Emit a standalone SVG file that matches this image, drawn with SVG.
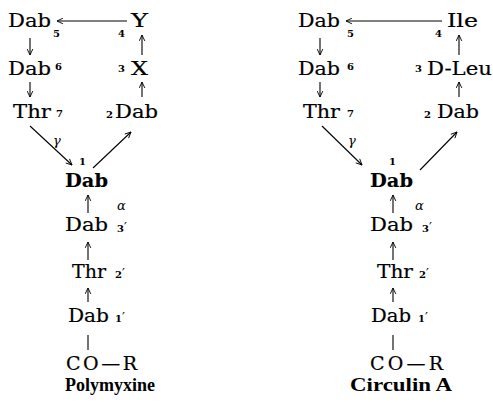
<svg xmlns="http://www.w3.org/2000/svg" width="493" height="403" viewBox="0 0 493 403">
<style>
.t{font-family:"DejaVu Serif","Liberation Serif",serif;font-size:19px;fill:#000;stroke:#000;stroke-width:0.2}
.b{font-weight:bold;stroke-width:0.1}
.n{font-family:"DejaVu Serif","Liberation Serif",serif;font-size:10px;font-weight:bold;fill:#000}
.p{font-size:13px;font-weight:normal}
.g{font-family:"DejaVu Serif","Liberation Serif",serif;font-size:13px;font-style:italic;fill:#000}
.ti{font-family:"Liberation Serif","DejaVu Serif",serif;font-size:19px;font-weight:bold;fill:#000}
.c line{stroke:#000;stroke-width:1.1;fill:none}
.a{marker-end:url(#ah)}
</style>
<defs>
<marker id="ah" viewBox="0 0 10 10" refX="9.5" refY="5" markerWidth="7" markerHeight="7" markerUnits="userSpaceOnUse" orient="auto">
<path d="M1,1 L9.5,5 L1,9" fill="none" stroke="#000" stroke-width="1.3"/>
</marker>
</defs>
<g id="connectors" class="c">
<line class="a" x1="127" y1="21" x2="57" y2="21"/>
<line class="a" x1="142" y1="55" x2="142" y2="35"/>
<line class="a" x1="30" y1="38" x2="30" y2="55"/>
<line class="a" x1="30" y1="82" x2="30" y2="97"/>
<line class="a" x1="142" y1="97" x2="142" y2="82"/>
<line class="a" x1="30" y1="126" x2="72" y2="165"/>
<line class="a" x1="93" y1="168" x2="131" y2="132"/>
<line class="a" x1="88" y1="213" x2="88" y2="195"/>
<line class="a" x1="88" y1="260" x2="88" y2="242"/>
<line class="a" x1="88" y1="302" x2="88" y2="288"/>
<line x1="88" y1="335" x2="88" y2="350"/>
<line class="a" x1="442" y1="21" x2="346" y2="21"/>
<line class="a" x1="459" y1="55" x2="459" y2="35"/>
<line class="a" x1="320" y1="38" x2="320" y2="55"/>
<line class="a" x1="320" y1="82" x2="320" y2="97"/>
<line class="a" x1="459" y1="97" x2="459" y2="82"/>
<line class="a" x1="322" y1="126" x2="362" y2="165"/>
<line class="a" x1="420" y1="170" x2="457" y2="132"/>
<line class="a" x1="393" y1="213" x2="393" y2="195"/>
<line class="a" x1="393" y1="260" x2="393" y2="242"/>
<line class="a" x1="393" y1="302" x2="393" y2="288"/>
<line x1="393" y1="335" x2="393" y2="350"/>
</g>
<g id="L-dab5"><text class="t" x="8" y="27" textLength="43" lengthAdjust="spacingAndGlyphs">Dab</text><text class="n" x="53" y="37">5</text></g>
<g id="L-y"><text class="n" x="118" y="37">4</text><text class="t" x="131" y="27" textLength="17" lengthAdjust="spacingAndGlyphs">Y</text></g>
<g id="L-dab6"><text class="t" x="8" y="75" textLength="43" lengthAdjust="spacingAndGlyphs">Dab</text><text class="n" x="55" y="70">6</text></g>
<g id="L-x"><text class="n" x="118" y="72">3</text><text class="t" x="131" y="75" textLength="17" lengthAdjust="spacingAndGlyphs">X</text></g>
<g id="L-thr7"><text class="t" x="13" y="118" textLength="38" lengthAdjust="spacingAndGlyphs">Thr</text><text class="n" x="56" y="117">7</text></g>
<g id="L-dab2"><text class="n" x="106" y="118">2</text><text class="t" x="115" y="118" textLength="43" lengthAdjust="spacingAndGlyphs">Dab</text></g>
<g id="L-gamma"><text class="g" x="53" y="145">γ</text></g>
<g id="L-dab1"><text class="n" x="79" y="165">1</text><text class="t b" x="65" y="187" textLength="43" lengthAdjust="spacingAndGlyphs">Dab</text></g>
<g id="L-alpha"><text class="g" x="117" y="210">α</text></g>
<g id="L-dab3p"><text class="t" x="65" y="231" textLength="43" lengthAdjust="spacingAndGlyphs">Dab</text><text class="n" x="117" y="232">3<tspan class="p">′</tspan></text></g>
<g id="L-thr2p"><text class="t" x="72" y="278" textLength="34" lengthAdjust="spacingAndGlyphs">Thr</text><text class="n" x="115" y="278">2<tspan class="p">′</tspan></text></g>
<g id="L-dab1p"><text class="t" x="68" y="322" textLength="41" lengthAdjust="spacingAndGlyphs">Dab</text><text class="n" x="115" y="322">1<tspan class="p">′</tspan></text></g>
<g id="L-cor"><text class="t" x="66" y="370" textLength="71" lengthAdjust="spacing">CO—R</text></g>
<g id="L-title"><text class="ti" x="65" y="391" textLength="90" lengthAdjust="spacingAndGlyphs">Polymyxine</text></g>
<g id="R-dab5"><text class="t" x="298" y="27" textLength="42" lengthAdjust="spacingAndGlyphs">Dab</text><text class="n" x="347" y="37">5</text></g>
<g id="R-ile"><text class="n" x="435" y="37">4</text><text class="t" x="447" y="27" textLength="31" lengthAdjust="spacingAndGlyphs">Ile</text></g>
<g id="R-dab6"><text class="t" x="298" y="75" textLength="42" lengthAdjust="spacingAndGlyphs">Dab</text><text class="n" x="347" y="70">6</text></g>
<g id="R-dleu"><text class="n" x="415" y="72">3</text><text class="t" x="427" y="75" textLength="65" lengthAdjust="spacingAndGlyphs">D-Leu</text></g>
<g id="R-thr7"><text class="t" x="303" y="118" textLength="37" lengthAdjust="spacingAndGlyphs">Thr</text><text class="n" x="347" y="117">7</text></g>
<g id="R-dab2"><text class="n" x="424" y="118">2</text><text class="t" x="437" y="118" textLength="42" lengthAdjust="spacingAndGlyphs">Dab</text></g>
<g id="R-gamma"><text class="g" x="348" y="145">γ</text></g>
<g id="R-dab1"><text class="n" x="389" y="165">1</text><text class="t b" x="370" y="187" textLength="43" lengthAdjust="spacingAndGlyphs">Dab</text></g>
<g id="R-alpha"><text class="g" x="415" y="210">α</text></g>
<g id="R-dab3p"><text class="t" x="370" y="231" textLength="43" lengthAdjust="spacingAndGlyphs">Dab</text><text class="n" x="422" y="232">3<tspan class="p">′</tspan></text></g>
<g id="R-thr2p"><text class="t" x="377" y="278" textLength="36" lengthAdjust="spacingAndGlyphs">Thr</text><text class="n" x="419" y="278">2<tspan class="p">′</tspan></text></g>
<g id="R-dab1p"><text class="t" x="371" y="322" textLength="40" lengthAdjust="spacingAndGlyphs">Dab</text><text class="n" x="418" y="322">1<tspan class="p">′</tspan></text></g>
<g id="R-cor"><text class="t" x="370" y="370" textLength="73" lengthAdjust="spacing">CO—R</text></g>
<g id="R-title"><text class="ti" x="350" y="391" textLength="102" lengthAdjust="spacingAndGlyphs">Circulin A</text></g>
</svg>
